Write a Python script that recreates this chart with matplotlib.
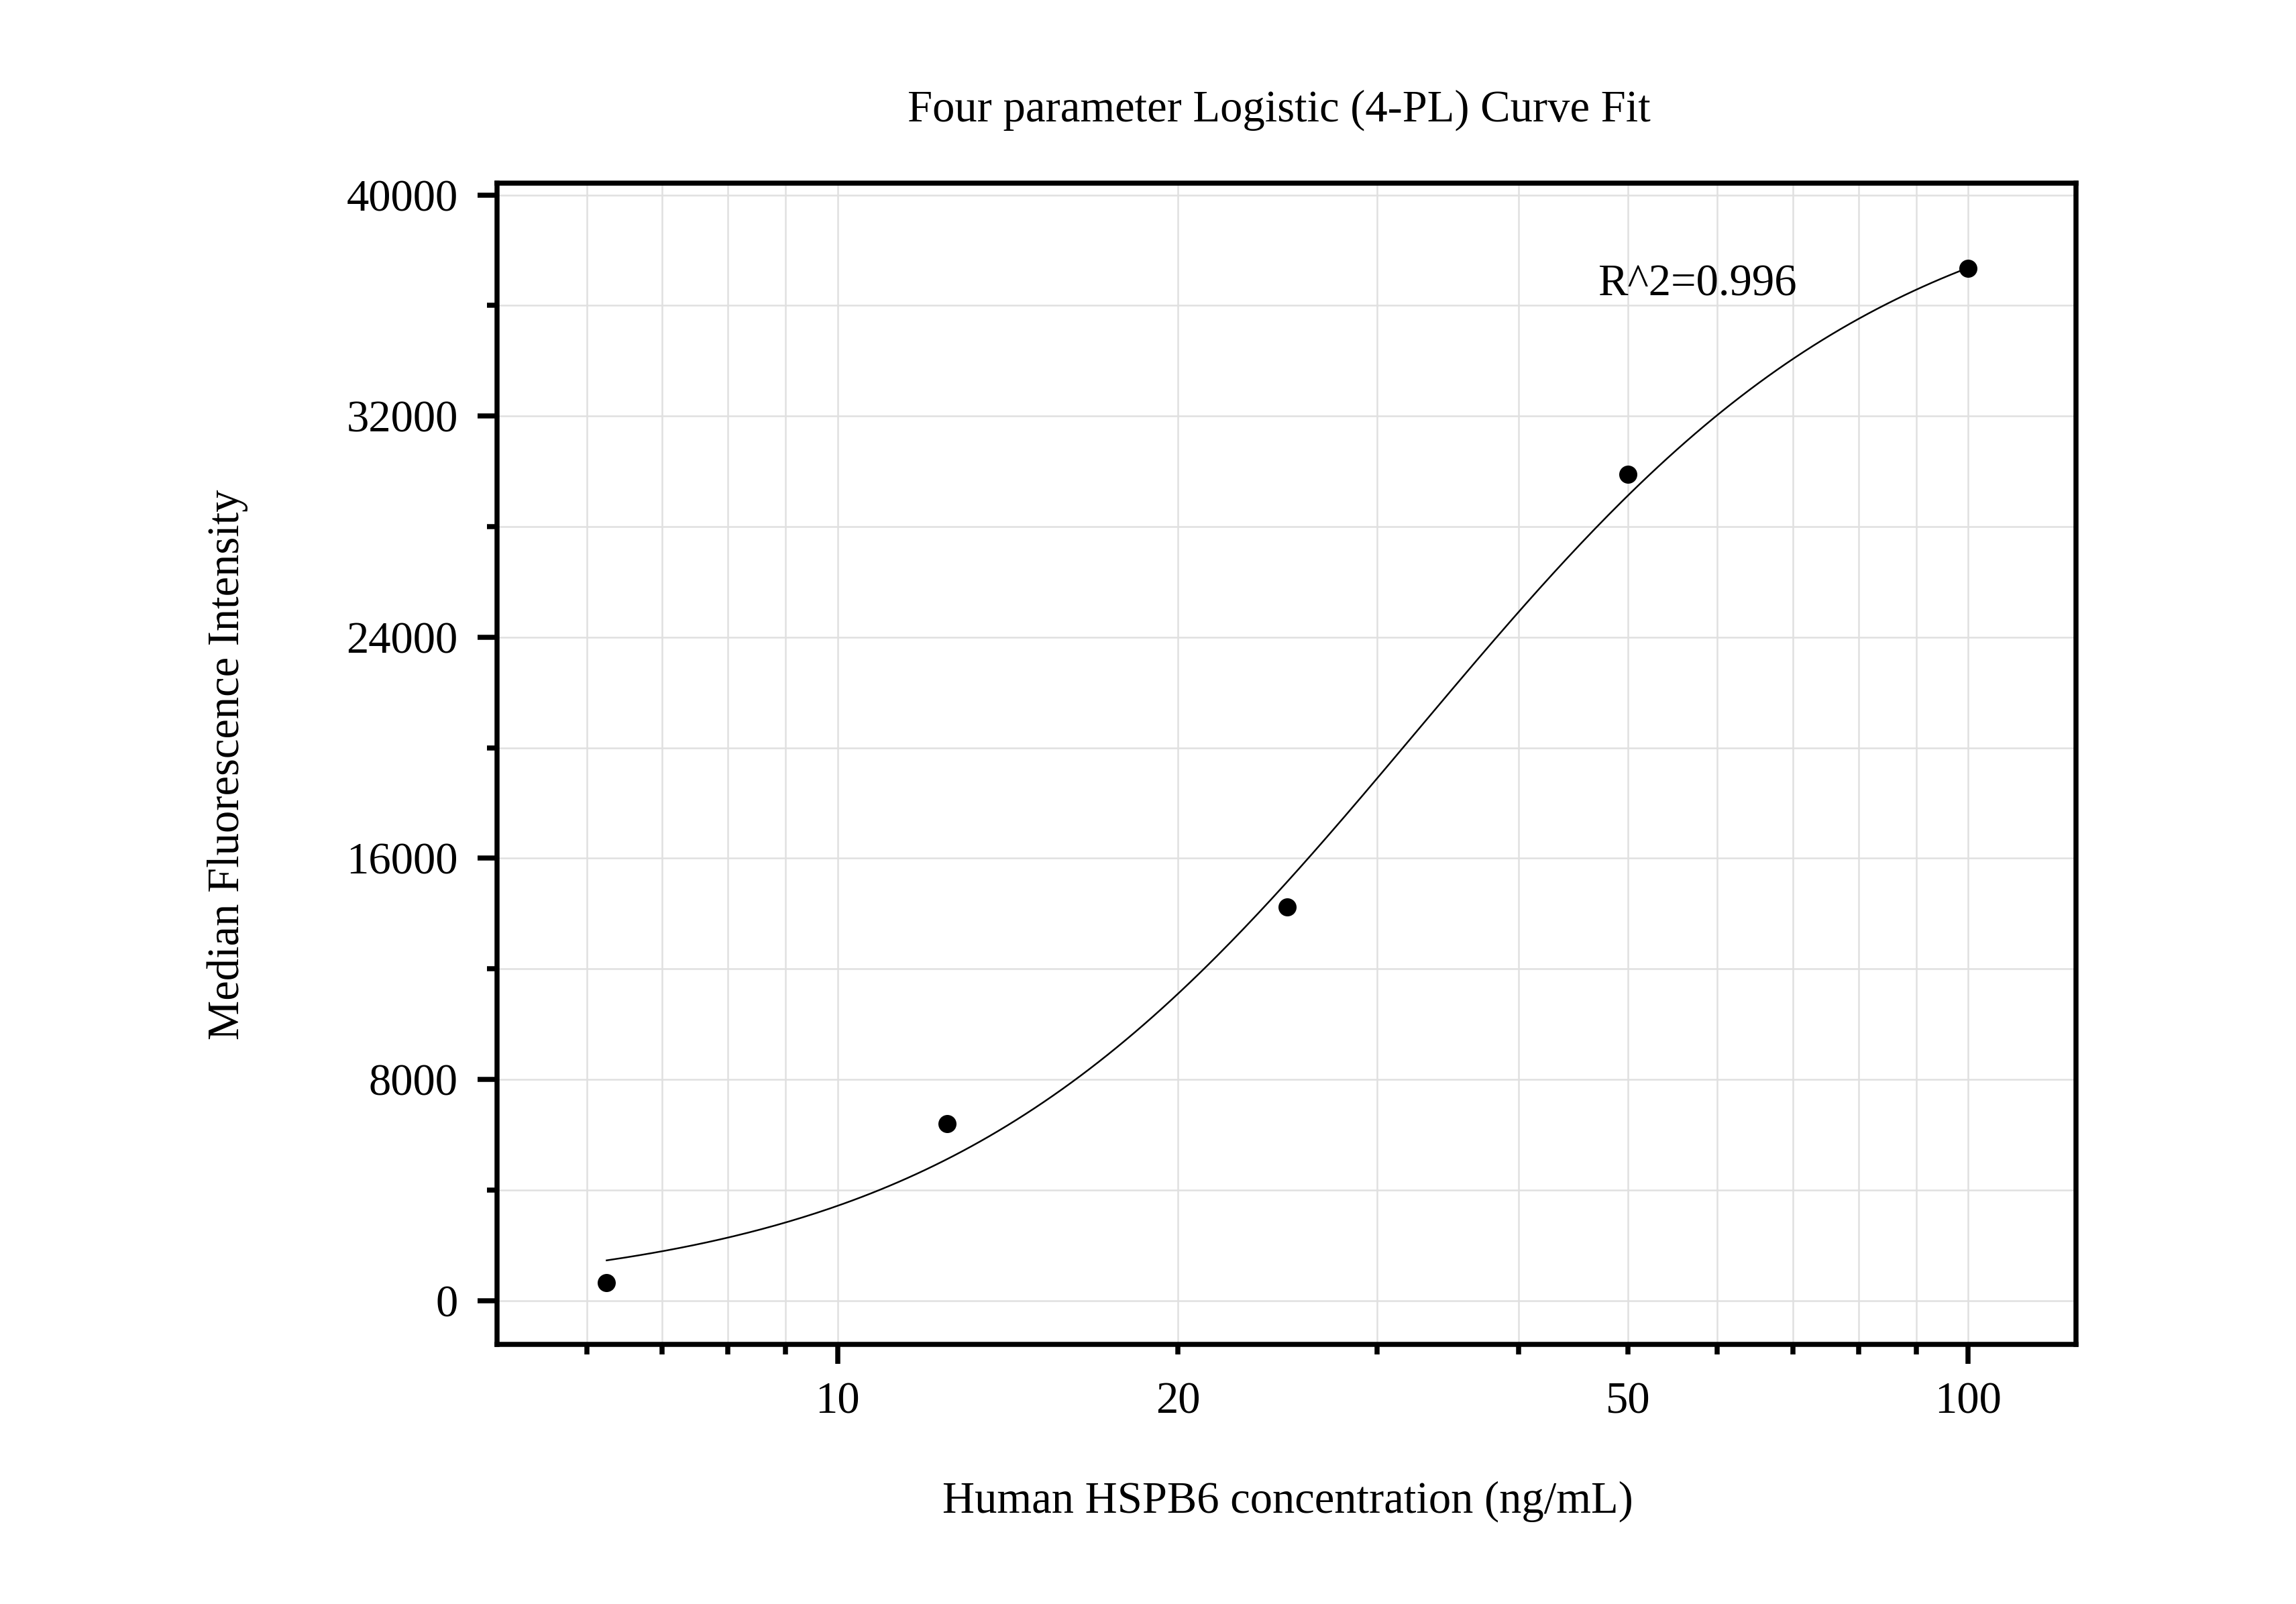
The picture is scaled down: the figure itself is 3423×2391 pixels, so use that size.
import matplotlib.pyplot as plt
import numpy as np
from matplotlib.ticker import FixedLocator, MultipleLocator

# standard concentrations and measured MFI
conc = [6.25, 12.5, 25, 50, 100]
mfi = [640, 6410, 14250, 29900, 37350]

# 4-PL fit parameters (bottom, top, ec50, hill slope)
fit_bottom = 150
fit_top = 41000
fit_ec50 = 32.5
fit_slope = 2.07
r2_text = "R^2=0.996"

x_major = [10, 100]
x_minor = [6, 7, 8, 9, 20, 30, 40, 50, 60, 70, 80, 90]
x_labels = {10: "10", 20: "20", 50: "50", 100: "100"}

plt.rcParams['font.family'] = ['Liberation Serif', 'DejaVu Serif']
plt.rcParams['font.size'] = 16

fig = plt.figure(figsize=(11.41, 7.97), dpi=300)
ax = fig.add_axes([0.2165, 0.1618, 0.6878, 0.7239])

xf = np.logspace(np.log10(conc[0]), np.log10(conc[-1]), 300)
yf = fit_top + (fit_bottom - fit_top) / (1 + (xf / fit_ec50) ** fit_slope)
ax.plot(xf, yf, color='black', lw=0.6, zorder=3)
ax.scatter(conc, mfi, s=30, color='black', zorder=4)

ax.set_xscale('log')
ax.set_xlim(5.0, 124.6)
ax.set_ylim(-1590, 40420)

ax.xaxis.set_major_locator(FixedLocator(x_major))
ax.xaxis.set_minor_locator(FixedLocator(x_minor))
fmt = plt.FuncFormatter(lambda v, p: x_labels.get(int(round(v)), ""))
ax.xaxis.set_major_formatter(fmt)
ax.xaxis.set_minor_formatter(fmt)
ax.yaxis.set_major_locator(MultipleLocator(8000))
ax.yaxis.set_minor_locator(MultipleLocator(4000))

ax.grid(True, which='both', color='#e0e0e0', lw=0.6, zorder=0)
ax.set_axisbelow(True)

for s in ax.spines.values():
    s.set_linewidth(1.8)
ax.tick_params(which='major', direction='out', length=7, width=1.8, labelsize=16)
ax.tick_params(which='minor', direction='out', length=3.5, width=1.8, labelsize=16)
ax.tick_params(axis='x', which='major', pad=6.3)
ax.tick_params(axis='x', which='minor', pad=9.8)
ax.tick_params(axis='y', which='major', pad=7)

ax.text(47, 36350, r2_text, ha='left', va='baseline', fontsize=16)

fig.text(0.557, 0.9315, "Four parameter Logistic (4-PL) Curve Fit", ha='center', va='center', fontsize=16)
fig.text(0.561, 0.064, "Human HSPB6 concentration (ng/mL)", ha='center', va='center', fontsize=16)
fig.text(0.099, 0.5233, "Median Fluorescence Intensity", ha='center', va='center', rotation=90, fontsize=16)

fig.savefig("out.png", dpi=300)
